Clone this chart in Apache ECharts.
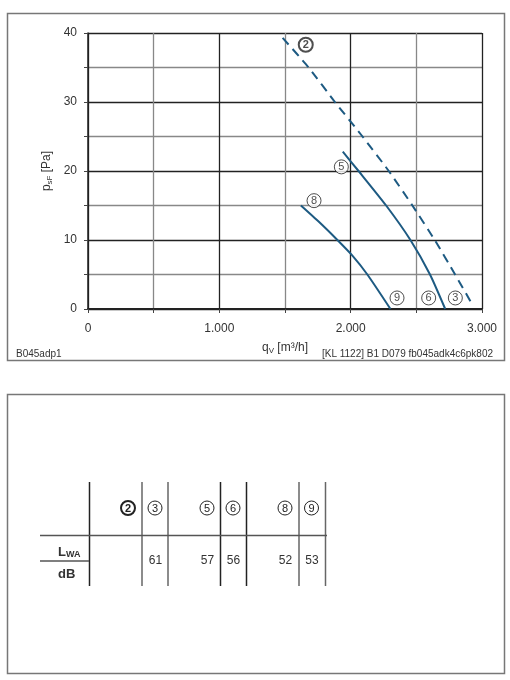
<!DOCTYPE html>
<html>
<head>
<meta charset="utf-8">
<script src="https://cdn.jsdelivr.net/npm/echarts@6/dist/echarts.min.js"></script>
<style>
html,body{margin:0;padding:0;background:#fff;}
#main{width:510px;height:680px;}
</style>
</head>
<body>
<div id="main"></div>
<script>
// ---- data ----
var curve23 = [[1482,39.3],[1680,35],[1880,30],[2090,25],[2290,20],[2470,15],[2640,10],[2795,5],[2931,0.5]];
var curve56 = [[1940,22.8],[2060,20],[2270,15],[2455,10],[2604,5],[2720,0]];
var curve89 = [[1621,15],[1760,12.6],[1899,10],[2010,7.8],[2127,5],[2303,0]];
var curveLabels = [[1658,38.3,'2',true],[1929,20.6,'5',false],[1721,15.7,'8',false],[2353,1.6,'9',false],[2594,1.6,'6',false],[2797,1.6,'3',false]];
var xTickLabels = {0:'0',1000:'1.000',2000:'2.000',3000:'3.000'};
var yTickLabels = [0,10,20,30,40];
var tableCols = ['2','3','5','6','8','9'];
var tableBold = [true,false,false,false,false,false];
var lwaValues = [null,61,57,56,52,53];

var FONT = '"Liberation Sans", Arial, sans-serif';
var LINE = '#1d5a82';

var chart = echarts.init(document.getElementById('main'), null, {renderer:'canvas'});

function lineSeries(data, dashed){
  return {type:'line', data:data, smooth:0.2, symbol:'none', z:3,
    lineStyle:{color:LINE, width:2, type: dashed ? [9,6] : 'solid'}};
}

var g = [];
g.push({type:'rect', shape:{x:7.5,y:13.5,width:497,height:347}, style:{fill:null, stroke:'#777', lineWidth:1.5}, z:0});
g.push({type:'rect', shape:{x:7.5,y:394.5,width:497,height:279}, style:{fill:null, stroke:'#777', lineWidth:1.5}});
g.push({type:'text', left:16, top:349, style:{text:'B045adp1', font:'10px '+FONT, fill:'#333'}});
g.push({type:'text', right:17, top:349, style:{text:'[KL 1122] B1 D079 fb045adk4c6pk802', font:'10px '+FONT, fill:'#333'}});

var colX = [128,155,207,233,285,311.5];
var vLines = [89.5,142,168,220.5,246.5,299,325.5];
var vColors = ['#222','#666','#666','#222','#222','#666','#666'];
vLines.forEach(function(x,i){
  g.push({type:'line', shape:{x1:x,y1:482,x2:x,y2:586}, style:{stroke:vColors[i], lineWidth:1.5}});
});
g.push({type:'line', shape:{x1:40,y1:535.5,x2:327,y2:535.5}, style:{stroke:'#555', lineWidth:1.5}});
g.push({type:'line', shape:{x1:40,y1:561,x2:89,y2:561}, style:{stroke:'#555', lineWidth:1.5}});
g.push({type:'text', x:58, y:552, style:{text:'{a|L}{s|WA}', verticalAlign:'middle', rich:{a:{font:'bold 13px '+FONT, fill:'#333'}, s:{font:'bold 9px '+FONT, fill:'#333', padding:[6,0,0,0]}}}});
g.push({type:'text', x:58, y:574, style:{text:'dB', verticalAlign:'middle', font:'bold 13px '+FONT, fill:'#333'}});

function circled(cx, cy, t, bold){
  return {type:'group', x:cx, y:cy, children:[
    {type:'circle', shape:{cx:0,cy:0,r:7}, style:{fill:'#fff', stroke:'#222', lineWidth: bold?2:1}},
    {type:'text', x:0, y:0.5, style:{text:t, align:'center', verticalAlign:'middle', font:(bold?'bold ':'')+'11px '+FONT, fill:'#222'}}
  ]};
}
tableCols.forEach(function(t,i){
  g.push(circled(colX[i], 508, t, tableBold[i]));
  if (lwaValues[i] != null) {
    g.push({type:'text', x:colX[i]+0.5, y:561, style:{text:String(lwaValues[i]), align:'center', verticalAlign:'middle', font:'12px '+FONT, fill:'#333'}});
  }
});

var option = {
  animation:false,
  backgroundColor:'#fff',
  grid:{left:88, right:28, top:33, bottom:371, containLabel:false},
  xAxis:{
    type:'value', min:0, max:3000, interval:500,
    name:'{a|q}{s|V}{a| [m³/h]}', nameLocation:'middle', nameGap:32, nameMoveOverlap:false,
    nameTextStyle:{rich:{a:{fontFamily:FONT, fontSize:12, color:'#333'}, s:{fontFamily:FONT, fontSize:8, color:'#333', padding:[6,0,0,0]}}},
    axisLine:{show:true, onZero:false, lineStyle:{color:'#222', width:2}},
    axisTick:{show:true, length:4, lineStyle:{color:'#444'}},
    axisLabel:{margin:14, fontFamily:FONT, fontSize:12, color:'#333',
      formatter:function(v){ return xTickLabels[v] !== undefined ? xTickLabels[v] : ''; }},
    splitLine:{show:true, lineStyle:{color:['#222','#888'], width:1.3}}
  },
  yAxis:{
    type:'value', min:0, max:40, interval:5,
    name:'{a|p}{s|sF}{a| [Pa]}', nameLocation:'middle', nameGap:34, nameRotate:90, nameMoveOverlap:false,
    nameTextStyle:{rich:{a:{fontFamily:FONT, fontSize:12, color:'#333'}, s:{fontFamily:FONT, fontSize:8, color:'#333', padding:[6,0,0,0]}}},
    axisLine:{show:true, lineStyle:{color:'#222', width:1.5}},
    axisTick:{show:true, length:4, lineStyle:{color:'#444'}},
    axisLabel:{margin:11, fontFamily:FONT, fontSize:12, color:'#333',
      formatter:function(v){ return yTickLabels.indexOf(v) >= 0 ? String(v) : ''; }},
    splitLine:{show:true, lineStyle:{color:['#222','#888'], width:1.3}}
  },
  series:[
    lineSeries(curve23, true),
    lineSeries(curve56, false),
    lineSeries(curve89, false),
    {type:'scatter', z:5, symbol:'circle', symbolSize:14,
      data: curveLabels.map(function(p){
        return {value:[p[0],p[1]], itemStyle:{color:'#fff', borderColor:'#222', borderWidth:p[3]?2:1},
          label:{show:true, position:'inside', formatter:p[2], fontFamily:FONT, fontSize:11, fontWeight:p[3]?'bold':'normal', color:'#222'}};
      }),
      emphasis:{disabled:true}
    }
  ],
  graphic:g
};
chart.setOption(option);
</script>
</body>
</html>
